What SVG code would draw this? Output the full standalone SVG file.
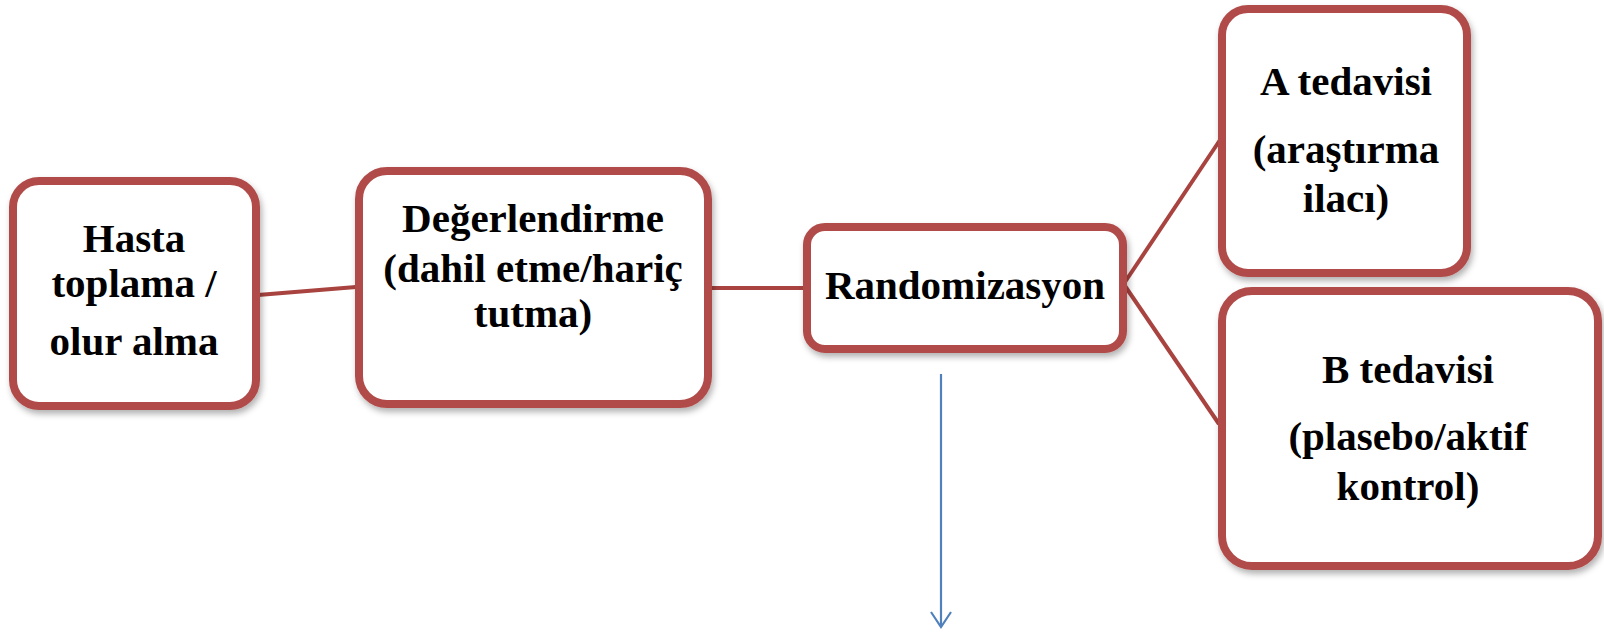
<svg xmlns="http://www.w3.org/2000/svg" width="1604" height="632" viewBox="0 0 1604 632">
<defs>
<filter id="sh" x="-10%" y="-10%" width="125%" height="125%">
<feDropShadow dx="2" dy="4" stdDeviation="3" flood-color="#000" flood-opacity="0.3"/>
</filter>
</defs>
<style>
.box{fill:#fff;stroke:#B04C4A;stroke-width:8;filter:url(#sh)}
.t{font-family:'Liberation Serif','Times New Roman',serif;font-weight:700;font-size:41px;fill:#000;text-anchor:middle}
.c{stroke:#A8433F;stroke-width:4;fill:none}
.b{stroke:#4F81BD;stroke-width:2.2;fill:none}
</style>
<rect width="1604" height="632" fill="#fff"/>
<g id="connectors">
<line class="c" x1="258" y1="295" x2="356" y2="287"/>
<line class="c" x1="710" y1="288" x2="804" y2="288"/>
<line class="c" x1="1125" y1="282" x2="1220" y2="140"/>
<line class="c" x1="1125" y1="286" x2="1219" y2="424"/>
<line class="b" x1="941" y1="374" x2="941" y2="627"/>
<polyline class="b" points="931,612 941,627 951,612"/>
</g>
<g id="node-hasta">
<rect class="box" x="13" y="181" width="243" height="225" rx="26"/>
<text class="t" x="134" y="252">Hasta</text>
<text class="t" x="134" y="297">toplama /</text>
<text class="t" x="134" y="355">olur alma</text>
</g>
<g id="node-degerlendirme">
<rect class="box" x="359" y="171" width="349" height="233" rx="28"/>
<text class="t" x="533" y="232">Değerlendirme</text>
<text class="t" x="533" y="282">(dahil etme/hariç</text>
<text class="t" x="533" y="327">tutma)</text>
</g>
<g id="node-randomizasyon">
<rect class="box" x="807" y="227" width="316" height="122" rx="18"/>
<text class="t" x="965" y="299">Randomizasyon</text>
</g>
<g id="node-a">
<rect class="box" x="1222" y="9" width="245" height="264" rx="26"/>
<text class="t" x="1346" y="95">A tedavisi</text>
<text class="t" x="1346" y="163">(araştırma</text>
<text class="t" x="1346" y="212">ilacı)</text>
</g>
<g id="node-b">
<rect class="box" x="1222" y="291" width="376" height="275" rx="30"/>
<text class="t" x="1408" y="383">B tedavisi</text>
<text class="t" x="1408" y="450">(plasebo/aktif</text>
<text class="t" x="1408" y="500">kontrol)</text>
</g>
</svg>
